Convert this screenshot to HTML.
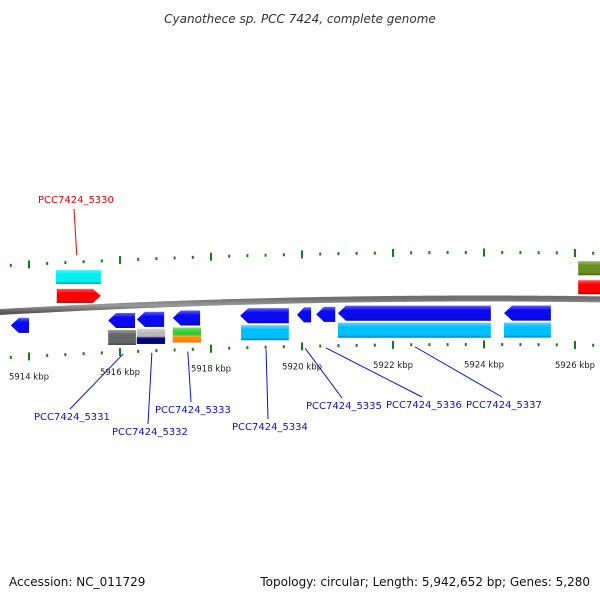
<!DOCTYPE html>
<html><head><meta charset="utf-8"><style>
body{margin:0;background:#fff}
svg text{font-family:"DejaVu Sans","Liberation Sans",sans-serif}
</style></head><body>
<svg id="c" width="600" height="600" viewBox="0 0 600 600" xmlns="http://www.w3.org/2000/svg">
<defs>
<linearGradient id="gb" x1="0" y1="0" x2="0" y2="1"><stop offset="0" stop-color="#6f6f6f"/><stop offset="0.5" stop-color="#9a9a9a"/><stop offset="1" stop-color="#5a5a5a"/></linearGradient>
<linearGradient id="shade" x1="0" y1="0" x2="0" y2="1"><stop offset="0" stop-color="#fff" stop-opacity="0.35"/><stop offset="0.3" stop-color="#fff" stop-opacity="0"/><stop offset="0.8" stop-color="#000" stop-opacity="0"/><stop offset="1" stop-color="#000" stop-opacity="0.3"/></linearGradient>
</defs>
<text x="300" y="23" text-anchor="middle" font-size="12" font-style="italic" fill="#333">Cyanothece sp. PCC 7424, complete genome</text>
<g id="ticks"></g>
<path id="bb" fill="none" stroke="url(#gb)" stroke-width="6"/>
<g id="genes"></g>
<g id="labels"></g>
<text x="9" y="586" font-size="12" fill="#111">Accession: NC_011729</text>
<text x="590" y="586" font-size="12" fill="#111" text-anchor="end">Topology: circular; Length: 5,942,652 bp; Genes: 5,280</text>
</svg>
<script>
const NS="http://www.w3.org/2000/svg";
// data (kbp)
const geneStart=[5913.60,5915.74,5916.37,5917.16,5918.64,5919.89,5920.31,5920.79,5924.44,5914.59,5926.07,5915.74,5916.37,5917.16,5917.16,5918.66,5920.79,5924.44,5926.07];
const geneEnd  =[5914.00,5916.33,5916.97,5917.76,5919.71,5920.20,5920.73,5924.15,5925.47,5915.58,5927.00,5916.35,5916.99,5917.78,5917.78,5919.71,5924.15,5925.47,5927.00];
const geneLane =[1,1,1,1,1,1,1,1,1,-2,-2,2,2,2,3,2,2,2,-1];
const geneDir  =[-1,-1,-1,-1,-1,-1,-1,-1,-1,0,0,0,0,0,0,0,0,0,0];
const geneColor=["#0a0af0","#0a0af0","#0a0af0","#0a0af0","#0a0af0","#0a0af0","#0a0af0","#0a0af0","#0a0af0","#00f0f0","#6b8e23","#666666","#b8b8b8","#33cc33","#ff8c00","#00bfff","#00bfff","#00bfff","#ff0000"];
const redArrowStart=[5914.61], redArrowEnd=[5915.58];
const navyStart=[5916.37], navyEnd=[5916.99];
const labelText=["PCC7424_5330","PCC7424_5331","PCC7424_5332","PCC7424_5333","PCC7424_5334","PCC7424_5335","PCC7424_5336","PCC7424_5337"];
const labelPos=[5915.05,5916.07,5916.70,5917.49,5919.21,5920.07,5920.53,5922.48];

function X(k){return 29+(k-5914)*45.5;}
function BB(x){return 5.86e-5*(x-480)*(x-480)+298.5;}
function mk(t,a,p){const e=document.createElementNS(NS,t);for(const k in a)e.setAttribute(k,a[k]);(p||document.getElementById('c')).appendChild(e);return e;}
let d="";for(let x=-5;x<=605;x+=5)d+=(x<0?"M":"L")+x+","+BB(x).toFixed(2);
document.getElementById('bb').setAttribute('d',d);
const tg=document.getElementById('ticks');
for(let k=5913.2;k<=5927.2;k+=0.4){
  const kk=Math.round(k*10)/10, x=X(kk), maj=Math.abs(kk/2-Math.round(kk/2))<0.01;
  const h=maj?8:3;
  [-46,46].forEach(o=>{const y=BB(x)+o;
    const t=mk('rect',{x:x-1,y:y-h/2,width:2,height:h,fill:"#1a7a1a"},tg);
    
    });
  if(maj){const lb=mk('text',{x:x,y:BB(x)+69,'font-size':8.5,fill:'#222','text-anchor':'middle'},tg);
    lb.textContent=kk+" kbp";
    
    }
}
const gg=document.getElementById('genes');
const laneOff={"-2":-38,"-1":-19,"1":7,"2":24,"3":32};
const laneH={"-2":14,"-1":14,"1":15,"2":15,"3":7};
function bar(x1,x2,lane,dir,col,name){
  const xm=(x1+x2)/2, y=BB(xm)+laneOff[lane], h=laneH[lane];
  const a=Math.min(8,(x2-x1)/2);let p;
  if(dir<0)p=`M${x1},${y+h/2} L${x1+a},${y} L${x2},${y} L${x2},${y+h} L${x1+a},${y+h}Z`;
  else if(dir>0)p=`M${x1},${y} L${x2-a},${y} L${x2},${y+h/2} L${x2-a},${y+h} L${x1},${y+h}Z`;
  else p=`M${x1},${y} L${x2},${y} L${x2},${y+h} L${x1},${y+h}Z`;
  const e=mk('path',{d:p,fill:col},gg);
  
  
  mk('path',{d:p,fill:'url(#shade)'},gg);
}
geneStart.forEach((s,i)=>{
  bar(X(s),Math.min(X(geneEnd[i]),605),geneLane[i],geneDir[i],geneColor[i],'gene-feature');
});
navyStart.forEach((s,i)=>bar(X(s),X(navyEnd[i]),3,0,"#000080",'gene-5332-subfeature'));
redArrowStart.forEach((s,i)=>bar(X(s),X(redArrowEnd[i]),-1,1,"#ff0000",'gene-5330-arrow'));
const lg=document.getElementById('labels');
const lx=[38,34,112,155,232,306,386,466], ly=[203,420,435,413,430,409,408,408];
labelText.forEach((t,i)=>{
  const gx=X(labelPos[i]);const red=i===0;
  const ty=red?BB(gx)-53:BB(gx)+48;
  const l=mk('line',{x1:lx[i]+36,y1:red?ly[i]+6:ly[i]-11,x2:gx,y2:ty,stroke:red?'#e00':'#1010e0','stroke-width':1},lg);
  
  
  const e=mk('text',{x:lx[i],y:ly[i],'font-size':10,fill:red?'#e00':'#1010d0'},lg);
  e.textContent=t;
  
  
});
</script>
</body></html>
